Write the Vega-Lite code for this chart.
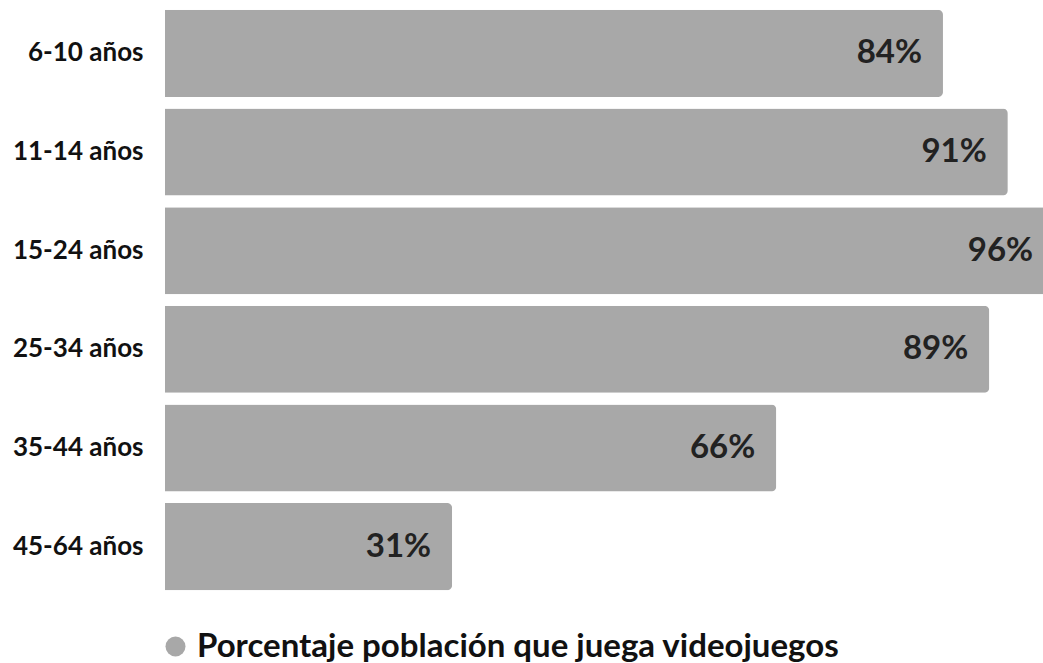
{
  "$schema": "https://vega.github.io/schema/vega-lite/v6.json",
  "autosize": "none",
  "width": 878,
  "height": 600,
  "padding": {"left": 165, "top": 0, "right": 0, "bottom": 63},
  "background": "white",
  "config": {"view": {"stroke": null}, "font": "Lato"},
  "data": {
    "values": [
      {"edad": "6-10 años", "valor": 84, "etiqueta": "84%", "serie": "Porcentaje población que juega videojuegos"},
      {"edad": "11-14 años", "valor": 91, "etiqueta": "91%", "serie": "Porcentaje población que juega videojuegos"},
      {"edad": "15-24 años", "valor": 96, "etiqueta": "96%", "serie": "Porcentaje población que juega videojuegos"},
      {"edad": "25-34 años", "valor": 89, "etiqueta": "89%", "serie": "Porcentaje población que juega videojuegos"},
      {"edad": "35-44 años", "valor": 66, "etiqueta": "66%", "serie": "Porcentaje población que juega videojuegos"},
      {"edad": "45-64 años", "valor": 31, "etiqueta": "31%", "serie": "Porcentaje población que juega videojuegos"}
    ]
  },
  "encoding": {
    "y": {
      "field": "edad", "type": "nominal", "sort": null,
      "scale": {"paddingInner": 0.118, "paddingOuter": 0.1},
      "axis": {"title": null, "domain": false, "ticks": false, "labelPadding": 22, "labelFontSize": 26, "labelFontWeight": "bold", "labelColor": "#111111", "labelFont": "Lato"}
    },
    "x": {
      "field": "valor", "type": "quantitative",
      "scale": {"domain": [0, 94.8], "nice": false, "zero": true},
      "axis": null
    }
  },
  "layer": [
    {
      "mark": {"type": "bar", "cornerRadiusTopRight": 5, "cornerRadiusBottomRight": 5},
      "encoding": {
        "color": {
          "field": "serie", "type": "nominal",
          "scale": {"range": ["#a8a8a8"]},
          "legend": {
            "title": null, "orient": "none", "legendX": -6, "legendY": 630,
            "symbolType": "circle", "symbolSize": 400,
            "labelFontSize": 33, "labelFontWeight": "bold", "labelColor": "#111111",
            "labelFont": "Lato", "labelOffset": 5, "labelLimit": 900
          }
        }
      }
    },
    {
      "mark": {"type": "text", "align": "right", "baseline": "middle", "dx": -21, "fontSize": 33, "fontWeight": "bold", "color": "#222222", "font": "Lato"},
      "encoding": {"text": {"field": "etiqueta", "type": "nominal"}}
    }
  ]
}
